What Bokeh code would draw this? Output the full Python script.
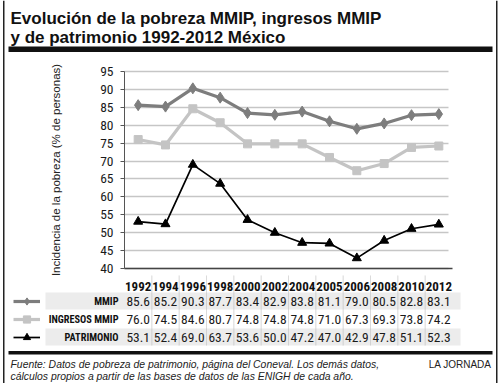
from bokeh.plotting import figure
from bokeh.models import (Range1d, FixedTicker, Label, LabelSet, BoxAnnotation, Legend, LegendItem,
                          ColumnDataSource, LinearAxis, Grid)
from bokeh.core.properties import value
from bokeh.embed import file_html
from bokeh.resources import INLINE

# ---------------- data ----------------
years = ["1992", "1994", "1996", "1998", "2000", "2002", "2004", "2005", "2006", "2008", "2010", "2012"]
mmip = [85.6, 85.2, 90.3, 87.7, 83.4, 82.9, 83.8, 81.1, 79.0, 80.5, 82.8, 83.1]
ingresos = [76.0, 74.5, 84.6, 80.7, 74.8, 74.8, 74.8, 71.0, 67.3, 69.3, 73.8, 74.2]
patrimonio = [53.1, 52.4, 69.0, 63.7, 53.6, 50.0, 47.2, 47.0, 42.9, 47.8, 51.1, 52.3]
series_names = ["MMIP", "INGRESOS MMIP", "PATRIMONIO"]
y_ticks = [40, 45, 50, 55, 60, 65, 70, 75, 80, 85, 90, 95]
title_lines = ["Evolución de la pobreza MMIP, ingresos MMIP",
               "y de patrimonio 1992-2012 México"]
y_label = "Incidencia de la pobreza (% de personas)"
source_lines = ["Fuente: Datos de pobreza de patrimonio, página del Coneval. Los demás datos,",
                "cálculos propios a partir de las bases de datos de las ENIGH de cada año."]
credit = "LA JORNADA"

# ---------------- layout / styles ----------------
W, H = 500, 383
NARROW = "Roboto Condensed"
SANS = "Liberation Sans"
styles = [
    dict(color="#7d7d7d", lw=3.2, marker="diamond", size=11),
    dict(color="#c4c4c4", lw=3.2, marker="square", size=8),
    dict(color="#000000", lw=1.7, marker="triangle", size=9),
]
# plot area in page pixels
PL, PR, PT, PB = 124, 452, 71, 268
n = len(years)
col_w = (PR - PL) / n
X0 = -PL / col_w - 0.5
X1 = (W - PL) / col_w - 0.5
ys = (PB - PT) / (y_ticks[-1] - y_ticks[0])
Y0 = y_ticks[0] - (H - PB) / ys
Y1 = y_ticks[-1] + PT / ys


def sy(page_y):
    """page y (from top) -> screen units (from bottom)"""
    return H - page_y


xi = list(range(n))

p = figure(width=W, height=H, x_range=Range1d(X0, X1), y_range=Range1d(Y0, Y1),
           x_axis_type=None, y_axis_type=None, output_backend="svg", toolbar_location=None,
           min_border=0, min_border_left=0, min_border_right=0, min_border_top=0, min_border_bottom=0,
           outline_line_color=None, background_fill_color="white", border_fill_color="white")

# ---------------- axes & grid ----------------
yt = FixedTicker(ticks=y_ticks)
yaxis = LinearAxis(ticker=yt, fixed_location=-0.5, bounds=(y_ticks[0], y_ticks[-1]),
                   axis_line_color="#555555", major_tick_line_color="#555555",
                   minor_tick_line_color=None, major_tick_in=0, major_tick_out=4,
                   major_label_standoff=7, major_label_text_font=NARROW,
                   major_label_text_font_size="13.5px", major_label_text_color="#1a1a1a",
                   axis_label=y_label, axis_label_text_font=SANS, axis_label_text_font_style="normal",
                   axis_label_text_font_size="11.5px", axis_label_text_color="#222222",
                   axis_label_standoff=35)
p.add_layout(yaxis, "left")

xaxis = LinearAxis(ticker=FixedTicker(ticks=xi),
                   major_label_overrides={i: y for i, y in zip(xi, years)},
                   fixed_location=y_ticks[0], bounds=(-0.5, n - 0.5),
                   axis_line_color="#444444", axis_line_width=1.5,
                   major_tick_line_color=None, minor_tick_line_color=None,
                   major_label_standoff=7, major_label_text_font=NARROW,
                   major_label_text_font_style="bold", major_label_text_font_size="13px",
                   major_label_text_color="#111111")
p.add_layout(xaxis, "below")

p.add_layout(Grid(dimension=1, ticker=yt, cross_bounds=(-0.5, n - 0.65),
                  grid_line_color="#c6c6c6", grid_line_width=1.3))

# ---------------- series ----------------
renderers = []
for vals, st in zip([mmip, ingresos, patrimonio], styles):
    lr = p.line(xi, vals, line_color=st["color"], line_width=st["lw"])
    sr = p.scatter(xi, vals, marker=st["marker"], size=st["size"],
                   fill_color=st["color"], line_color=st["color"])
    renderers.append([lr, sr])


def box(left, right, top, bottom, color, level="annotation", lu="screen"):
    p.add_layout(BoxAnnotation(left=left, right=right, top=top, bottom=bottom,
                               left_units=lu, right_units=lu, top_units="screen", bottom_units="screen",
                               fill_color=color, fill_alpha=1, line_color=None, level=level))


# outer side rules
box(2.5, 4, sy(0), sy(H), "#222222")
box(495.5, 497, sy(0), sy(H), "#222222")

# ---------------- title ----------------
for i, t in enumerate(title_lines):
    p.add_layout(Label(x=10, y=sy(17.5 + 19 * i), x_units="screen", y_units="screen", text=t,
                       text_font=SANS, text_font_style="bold", text_font_size="17px",
                       text_color="#111111", text_baseline="alphabetic", text_align="left"))
box(8, 492, sy(46), sy(51.5), "#111111")

# ---------------- table ----------------
row_c = [300.5, 318.5, 336.5]
for k in (0, 2):
    box(45, 460, sy(row_c[k] - 8.5), sy(row_c[k] + 8.5), "#ececec", level="underlay")
for k in range(1, n):
    p.add_layout(BoxAnnotation(left=k - 0.5, right=k - 0.5, top=sy(275), bottom=sy(345),
                               top_units="screen", bottom_units="screen",
                               fill_alpha=0, line_color="#b8b8b8", line_width=1, level="underlay"))

src = ColumnDataSource(dict(
    x=xi,
    v0=[f"{v:.1f}" for v in mmip],
    v1=[f"{v:.1f}" for v in ingresos],
    v2=[f"{v:.1f}" for v in patrimonio],
))
for col, rc in zip(["v0", "v1", "v2"], row_c):
    p.add_layout(LabelSet(x="x", y=sy(rc), y_units="screen", text=col, source=src,
                          text_font=value(NARROW), text_font_size="13.5px", text_color="#1a1a1a",
                          text_align="center", text_baseline="middle"))

for name, rc in zip(series_names, row_c):
    p.add_layout(Label(x=118, y=sy(rc), x_units="screen", y_units="screen", text=name,
                       text_font=NARROW, text_font_style="bold", text_font_size="10.3px",
                       text_color="#111111", text_align="right", text_baseline="middle"))

legend = Legend(items=[LegendItem(label=value(" "), renderers=r) for r in renderers],
                location=(13, sy(row_c[2] + 9)), orientation="vertical",
                glyph_width=27, glyph_height=18, label_height=18, label_width=0,
                label_standoff=0, spacing=0, padding=0, margin=0,
                background_fill_alpha=0, border_line_color=None, label_text_font_size="10px")
p.add_layout(legend, "center")

# ---------------- footer ----------------
box(8, 492, sy(350.5), sy(354), "#111111")
for i, t in enumerate(source_lines):
    p.add_layout(Label(x=10, y=sy(364 + 11.5 * i), x_units="screen", y_units="screen", text=t,
                       text_font=SANS, text_font_style="italic", text_font_size="10.4px",
                       text_color="#222222", text_baseline="middle", text_align="left"))
p.add_layout(Label(x=491, y=sy(364), x_units="screen", y_units="screen", text=credit,
                   text_font=SANS, text_font_size="10px", text_color="#222222",
                   text_baseline="middle", text_align="right"))

open("out.html", "w").write(file_html(p, INLINE))
